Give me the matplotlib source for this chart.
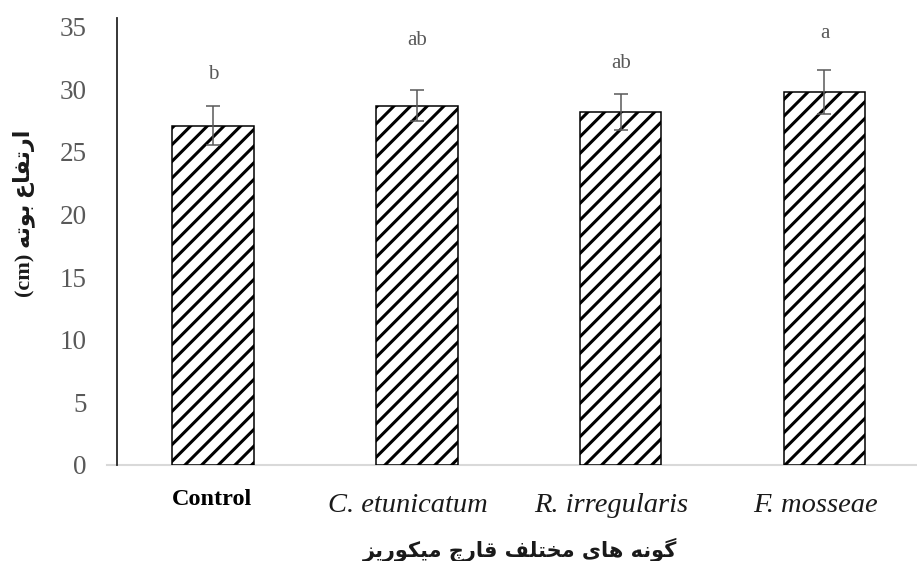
import numpy as np
import matplotlib.pyplot as plt
from matplotlib.transforms import blended_transform_factory

# plant height per mycorrhizal species
species = ['Control', 'C. etunicatum', 'R. irregularis', 'F. mosseae']
height = [27.1, 28.7, 28.2, 29.8]
err = [1.55, 1.25, 1.45, 1.75]
letters = ['b', 'ab', 'ab', 'a']
letter_y = [31.2, 33.9, 32.1, 34.5]

ylabel_fa = 'ارتفاع بوته'
xlabel_fa = 'گونه های مختلف قارچ میکوریز'

# arabic presentation forms: (isolated, final, initial, medial)
FORMS = {
    'ا': ('\uFE8D', '\uFE8E', None, None),
    'ر': ('\uFEAD', '\uFEAE', None, None),
    'ز': ('\uFEAF', '\uFEB0', None, None),
    'و': ('\uFEED', '\uFEEE', None, None),
    'ب': ('\uFE8F', '\uFE90', '\uFE91', '\uFE92'),
    'ت': ('\uFE95', '\uFE96', '\uFE97', '\uFE98'),
    'ف': ('\uFED1', '\uFED2', '\uFED3', '\uFED4'),
    'ع': ('\uFEC9', '\uFECA', '\uFECB', '\uFECC'),
    'ه': ('\uFEE9', '\uFEEA', '\uFEEB', '\uFEEC'),
    'ن': ('\uFEE5', '\uFEE6', '\uFEE7', '\uFEE8'),
    'م': ('\uFEE1', '\uFEE2', '\uFEE3', '\uFEE4'),
    'خ': ('\uFEA5', '\uFEA6', '\uFEA7', '\uFEA8'),
    'ل': ('\uFEDD', '\uFEDE', '\uFEDF', '\uFEE0'),
    'ق': ('\uFED5', '\uFED6', '\uFED7', '\uFED8'),
    'گ': ('\uFB92', '\uFB93', '\uFB94', '\uFB95'),
    'چ': ('\uFB7A', '\uFB7B', '\uFB7C', '\uFB7D'),
    'ک': ('\uFB8E', '\uFB8F', '\uFB90', '\uFB91'),
    'ی': ('\uFBFC', '\uFBFD', '\uFBFE', '\uFBFF'),
}


def shape(text):
    out = []
    for i, ch in enumerate(text):
        if ch not in FORMS:
            out.append(ch)
            continue
        prev = text[i - 1] if i > 0 else ''
        nxt = text[i + 1] if i + 1 < len(text) else ''
        join_prev = prev in FORMS and FORMS[prev][2] is not None
        join_next = nxt in FORMS and FORMS[ch][2] is not None
        iso, fin, ini, med = FORMS[ch]
        if join_prev and join_next:
            out.append(med)
        elif join_prev:
            out.append(fin)
        elif join_next:
            out.append(ini)
        else:
            out.append(iso)
    # visual order, right to left
    return ''.join(reversed(out))


plt.rcParams['hatch.linewidth'] = 2.2

fig = plt.figure(figsize=(9.17, 5.61), dpi=100)
ax = fig.add_axes([117 / 917, 96 / 561, 800 / 917, 447 / 561])

x = np.arange(len(species))
ax.bar(x, height, width=0.40, color='white', edgecolor='black',
       linewidth=1.1, hatch='//', zorder=2)
ax.errorbar(x, height, yerr=err, fmt='none', ecolor='#595959',
            elinewidth=1.1, capsize=4.7, capthick=1.1, zorder=3)

for xi, lab, ly in zip(x, letters, letter_y):
    ax.text(xi, ly, lab, ha='center', va='center', fontsize=15,
            family='Liberation Serif', color='#595959')

ax.set_xlim(-0.471, 3.454)
ax.set_ylim(0, 35.7)
ax.set_yticks(np.arange(0, 36, 5))
ax.tick_params(axis='y', length=0, pad=22, labelsize=19.5, labelcolor='#595959')
for t in ax.get_yticklabels():
    t.set_family('Liberation Serif')
ax.set_xticks([])

for s in ['top', 'right', 'bottom']:
    ax.spines[s].set_visible(False)
ax.spines['left'].set_linewidth(1.3)
ax.spines['left'].set_color('#262626')
ax.axhline(0, xmin=-0.012, xmax=1, color='#d9d9d9', lw=1.5,
           clip_on=False, zorder=1)

# category names under the axis
trans = blended_transform_factory(ax.transData, fig.transFigure)
for xi, name in zip(x, species):
    if name == 'Control':
        ax.text(xi - 0.005, 1 - 505 / 561, name, transform=trans, ha='center',
                va='baseline', fontsize=17.5, fontweight='bold',
                family='Liberation Serif', color='black')
    else:
        ax.text(xi - 0.045, 1 - 512 / 561, name, transform=trans, ha='center',
                va='baseline', fontsize=20.5, style='italic',
                family='Liberation Serif', color='#1a1a1a')

fig.text(520 / 917, 1 - 550 / 561, shape(xlabel_fa), ha='center', va='center',
         fontsize=15, fontweight='bold', family='DejaVu Sans', color='#1a1a1a')
fig.text(24 / 917, 1 - 213 / 561, '(cm) ' + shape(ylabel_fa), rotation=90,
         ha='center', va='center', fontsize=16, fontweight='bold',
         family=['Liberation Serif', 'DejaVu Sans'], color='#1a1a1a')

fig.savefig('out.png', dpi=100)
